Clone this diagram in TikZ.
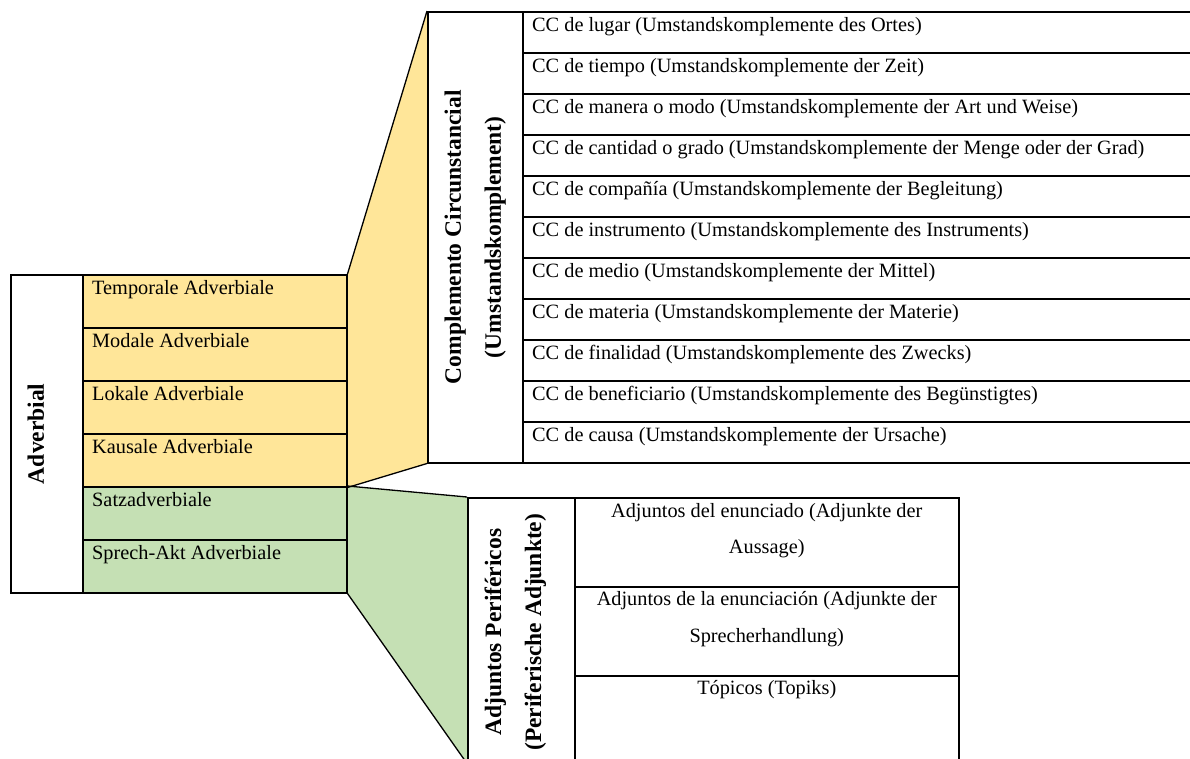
\documentclass[tikz,border=0pt]{standalone}
\usepackage{fontspec}
\setmainfont{Liberation Serif}
\usetikzlibrary{backgrounds}
\definecolor{yel}{HTML}{FFE699}
\definecolor{grn}{HTML}{C5E0B4}
\begin{document}
\begin{tikzpicture}[x=1pt,y=-1pt,
  box/.style={draw=black, line width=1.5pt, inner sep=0pt, anchor=north west},
  txt/.style={font=\fontsize{20.3}{24}\selectfont, inner sep=0pt, anchor=base west},
  ctxt/.style={font=\fontsize{20.3}{24}\selectfont, inner sep=0pt, anchor=base},
  btxt/.style={font=\fontsize{23.5}{40}\selectfont\bfseries, rotate=90, align=center, inner sep=0pt},
  slant/.style={draw=black, line width=1.3pt}]
\useasboundingbox (0,0) rectangle (1190,758);

% left block
\node[box, minimum width=72pt, minimum height=318pt] (adv) at (10,274) {};
\node[btxt] (advlbl) at ([xshift=-11pt]adv.center) {Adverbial};
\foreach \t [count=\i] in {Temporale Adverbiale, Modale Adverbiale, Lokale Adverbiale, Kausale Adverbiale}{
  \node[box, fill=yel, minimum width=264pt, minimum height=53pt] (t\i) at (82,{274+53*(\i-1)}) {};
  \node[txt] (tl\i) at ([shift={(10,20)}]t\i.north west) {\t};
}
\foreach \t [count=\i] in {Satzadverbiale, Sprech-Akt Adverbiale}{
  \node[box, fill=grn, minimum width=264pt, minimum height=53pt] (s\i) at (82,{486+53*(\i-1)}) {};
  \node[txt] (sl\i) at ([shift={(10,20)}]s\i.north west) {\t};
}

% top block
\node[box, minimum width=95pt, minimum height=451pt] (cc) at (427,11) {};
\node[btxt] (cclbl) at (cc.center) {Complemento Circunstancial\\(Umstandskomplement)};
\foreach \t [count=\i] in {
  CC de lugar (Umstandskomplemente des Ortes),
  CC de tiempo (Umstandskomplemente der Zeit),
  CC de manera o modo (Umstandskomplemente der Art und Weise),
  CC de cantidad o grado (Umstandskomplemente der Menge oder der Grad),
  CC de compañía (Umstandskomplemente der Begleitung),
  CC de instrumento (Umstandskomplemente des Instruments),
  CC de medio (Umstandskomplemente der Mittel),
  CC de materia (Umstandskomplemente der Materie),
  CC de finalidad (Umstandskomplemente des Zwecks),
  CC de beneficiario (Umstandskomplemente des Begünstigtes),
  CC de causa (Umstandskomplemente der Ursache)}{
  \node[box, minimum width=675pt, minimum height=41pt] (r\i) at (522,{11+41*(\i-1)}) {};
  \node[txt] (rl\i) at ([shift={(10,20)}]r\i.north west) {\t};
}

% bottom block
\node[box, minimum width=107pt, minimum height=265pt] (ap) at (467,497) {};
\node[btxt] (aplbl) at ([shift={(-6,2)}]ap.center) {Adjuntos Periféricos\\(Periferische Adjunkte)};
\node[box, minimum width=384pt, minimum height=89pt] (b1) at (574,497) {};
\node[box, minimum width=384pt, minimum height=89pt] (b2) at (574,586) {};
\node[box, minimum width=384pt, minimum height=91pt] (b3) at (574,675) {};
\node[ctxt] (b1a) at ([shift={(0,20)}]b1.north) {Adjuntos del enunciado (Adjunkte der};
\node[ctxt] (b1b) at ([shift={(0,56)}]b1.north) {Aussage)};
\node[ctxt] (b2a) at ([shift={(0,19)}]b2.north) {Adjuntos de la enunciación (Adjunkte der};
\node[ctxt] (b2b) at ([shift={(0,56)}]b2.north) {Sprecherhandlung)};
\node[ctxt] (b3a) at ([shift={(0,19)}]b3.north) {Tópicos (Topiks)};

% connectors / fans
\begin{scope}[on background layer]
  \fill[yel] (t1.north east) -- (cc.north west) -- (cc.south west) -- (t4.south east) -- cycle;
  \fill[grn] (s1.north east) -- (ap.north west) -- (ap.south west) -- (s2.south east) -- cycle;
\end{scope}
\draw[slant] (t1.north east) -- (cc.north west);
\draw[slant] (t4.south east) -- (cc.south west);
\draw[slant] (s1.north east) -- (ap.north west);
\draw[slant] (s2.south east) -- (ap.south west);
\end{tikzpicture}
\end{document}
